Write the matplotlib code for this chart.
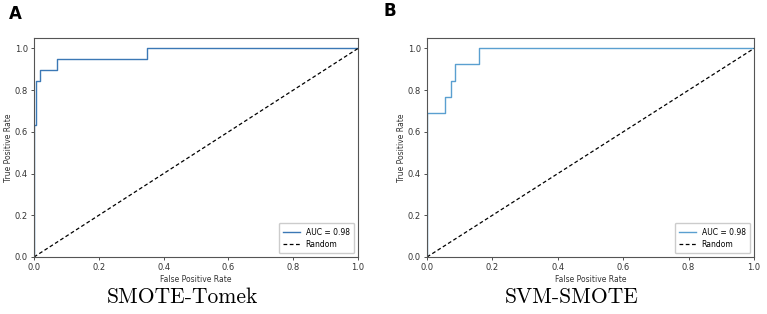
import matplotlib.pyplot as plt

# ROC curve A (SMOTE-Tomek)
fpr_a = [0.0, 0.0, 0.005, 0.005, 0.019, 0.019, 0.071, 0.071, 0.348, 0.348, 1.0]
tpr_a = [0.0, 0.632, 0.632, 0.842, 0.842, 0.895, 0.895, 0.947, 0.947, 1.0, 1.0]
# ROC curve B (SVM-SMOTE)
fpr_b = [0.0, 0.0, 0.054, 0.054, 0.072, 0.072, 0.086, 0.086, 0.159, 0.159, 1.0]
tpr_b = [0.0, 0.692, 0.692, 0.769, 0.769, 0.846, 0.846, 0.923, 0.923, 1.0, 1.0]
auc = [0.98, 0.98]
titles = ['SMOTE-Tomek', 'SVM-SMOTE']
letters = ['A', 'B']

W, H = 767, 314
fig = plt.figure(figsize=(W / 100, H / 100), dpi=100)

boxes = [(34, 38, 358, 257), (427, 38, 754, 257)]
letter_pos = [(15, 14), (390, 11)]
title_x = [182, 572]
curves = [(fpr_a, tpr_a), (fpr_b, tpr_b)]
colors = ['#3b78b5', '#5a9fd0']

for i, (x0, y0, x1, y1) in enumerate(boxes):
    ax = fig.add_axes([x0 / W, 1 - y1 / H, (x1 - x0) / W, (y1 - y0) / H])
    fx, ty = curves[i]
    ax.plot(fx, ty, color=colors[i], lw=1.0, label='AUC = %.2f' % auc[i])
    ax.plot([0, 1], [0, 1], 'k--', lw=0.9, dashes=(3, 2), label='Random')
    ax.set_xlim(0, 1)
    ax.set_ylim(0, 1.05)
    ax.set_xticks([0, 0.2, 0.4, 0.6, 0.8, 1.0])
    ax.set_yticks([0, 0.2, 0.4, 0.6, 0.8, 1.0])
    ax.tick_params(labelsize=6, length=2.5, width=0.6, pad=2, colors='#333333')
    for s in ax.spines.values():
        s.set_color('#555555')
        s.set_linewidth(0.8)
    ax.set_xlabel('False Positive Rate', fontsize=5.5, labelpad=2, color='#333333')
    ax.set_ylabel('True Positive Rate', fontsize=5.5, labelpad=1, color='#333333')
    ax.legend(loc='lower right', fontsize=5.5, handlelength=2.2, borderpad=0.6,
              labelspacing=0.4, handletextpad=0.7, framealpha=1)
    fig.text(title_x[i] / W, 1 - 297 / H, titles[i], family='cmr10', fontsize=15.5,
             ha='center', va='center')
    lx, ly = letter_pos[i]
    fig.text(lx / W, 1 - ly / H, letters[i], fontsize=12, fontweight='bold',
             ha='center', va='center')

fig.savefig('out.png', dpi=100)
